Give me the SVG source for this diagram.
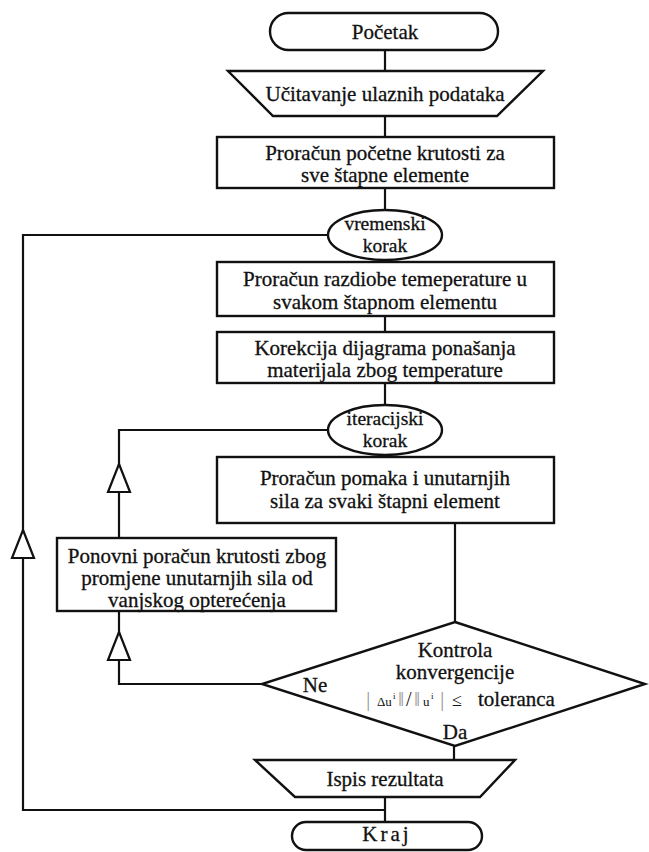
<svg xmlns="http://www.w3.org/2000/svg" width="649" height="852" viewBox="0 0 649 852">
<style>
.s{fill:#fff;stroke:#111;stroke-width:2.4}
.c{fill:none;stroke:#111;stroke-width:2.2}
.t{font-family:"Liberation Serif","Times New Roman",serif;font-size:21px;fill:#111;stroke:#111;stroke-width:0.3;text-anchor:middle}
.e{font-size:19.5px}
.f{font-family:"Liberation Serif","Times New Roman",serif;fill:#111}
.g{fill:#999;font-size:22px}
</style>
<defs>
<path id="arr" d="M0,0 L11,28 L-11,28 Z" fill="#fff" stroke="#111" stroke-width="2.2"/>
</defs>
<rect width="649" height="852" fill="#fff"/>
<g id="connectors">
<path class="c" d="M385,50 V71 M385,116 V137 M385,188 V210 M385,260 V262 M385,316 V332 M385,383 V405 M385,455 V457"/>
<path class="c" d="M455,523 V622 M454,746 V760 M385,797 V822"/>
<path class="c" d="M328,430 H119 V538"/>
<path class="c" d="M262,684 H119 V611"/>
<path class="c" d="M328,235 H23 V810 H385"/>
<use href="#arr" x="119" y="464"/>
<use href="#arr" x="119" y="632"/>
<use href="#arr" x="23" y="530"/>
</g>
<g id="start">
<rect class="s" x="270" y="13" width="228" height="37" rx="18.5"/>
<text class="t" x="385" y="39">Početak</text>
</g>
<g id="input">
<polygon class="s" points="228,71 543,71 497,116 273,116"/>
<text class="t" x="385" y="101">Učitavanje ulaznih podataka</text>
</g>
<g id="box1">
<rect class="s" x="217" y="137" width="337" height="51"/>
<text class="t" x="385" y="160">Proračun početne krutosti za</text>
<text class="t" x="385" y="182">sve štapne elemente</text>
</g>
<g id="vremenski">
<ellipse class="s" cx="385" cy="235" rx="57" ry="25"/>
<text class="t e" x="385" y="230">vremenski</text>
<text class="t e" x="385" y="252">korak</text>
</g>
<g id="box2">
<rect class="s" x="217" y="262" width="337" height="54"/>
<text class="t" x="385" y="286">Proračun razdiobe temeperature u</text>
<text class="t" x="385" y="309">svakom štapnom elementu</text>
</g>
<g id="box3">
<rect class="s" x="217" y="332" width="337" height="51"/>
<text class="t" x="385" y="355">Korekcija dijagrama ponašanja</text>
<text class="t" x="385" y="377">materijala zbog temperature</text>
</g>
<g id="iteracijski">
<ellipse class="s" cx="385" cy="430" rx="57" ry="25"/>
<text class="t e" x="385" y="425">iteracijski</text>
<text class="t e" x="385" y="447">korak</text>
</g>
<g id="box4">
<rect class="s" x="217" y="457" width="337" height="66"/>
<text class="t" x="385" y="485">Proračun pomaka i unutarnjih</text>
<text class="t" x="385" y="508">sila za svaki štapni element</text>
</g>
<g id="box5">
<rect class="s" x="57" y="538" width="279" height="73"/>
<text class="t" x="197" y="563">Ponovni poračun krutosti zbog</text>
<text class="t" x="197" y="585">promjene unutarnjih sila od</text>
<text class="t" x="197" y="607">vanjskog opterećenja</text>
</g>
<g id="decision">
<polygon class="s" points="455,622 645,684 455,746 262,684"/>
<text class="t" x="455" y="657">Kontrola</text>
<text class="t" x="455" y="679">konvergencije</text>
<text class="f" y="706"><tspan class="g" x="366">|</tspan><tspan font-size="13" x="377">Δu</tspan><tspan font-size="9" x="393" dy="-7">i</tspan><tspan class="g" x="398" dy="7">‖</tspan><tspan font-size="20" x="406">/</tspan><tspan class="g" x="414">‖</tspan><tspan font-size="13" x="423">u</tspan><tspan font-size="9" x="431" dy="-7">i</tspan><tspan class="g" x="440" dy="7">|</tspan></text>
<text class="f" x="452" y="706" font-size="18">≤</text>
<text class="f" x="478" y="706" font-size="21" stroke="#111" stroke-width="0.3">toleranca</text>
<text class="t" x="315" y="692">Ne</text>
<text class="t" x="455" y="739">Da</text>
</g>
<g id="output">
<polygon class="s" points="255,760 515,760 480,797 295,797"/>
<text class="t" x="385" y="786">Ispis rezultata</text>
</g>
<g id="end">
<rect class="s" x="292" y="822" width="190" height="28" rx="14"/>
<text class="t" x="387" y="841" font-size="13" letter-spacing="3">Kraj</text>
</g>
</svg>
